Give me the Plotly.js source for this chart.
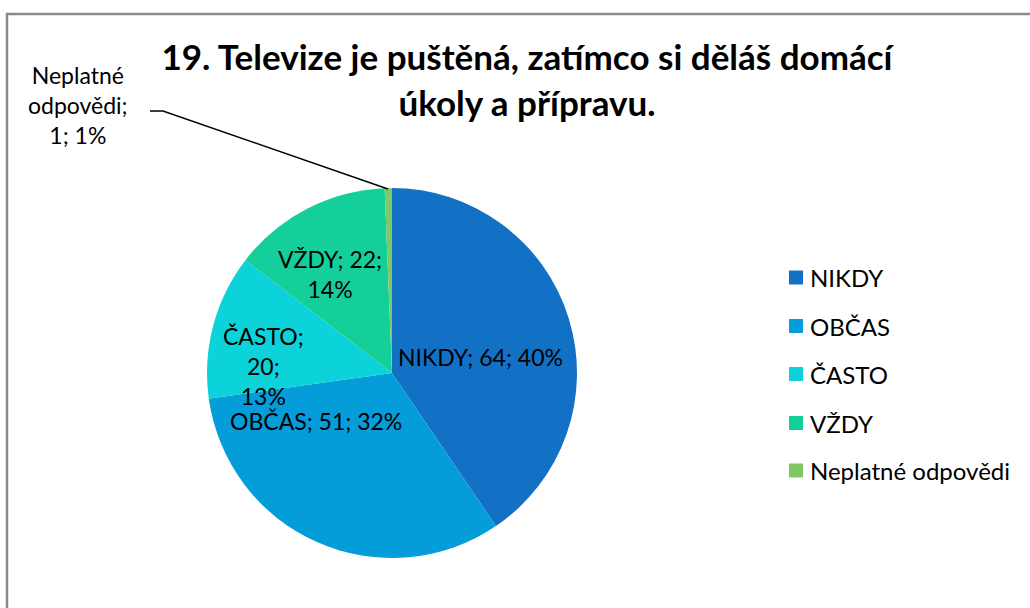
<!DOCTYPE html>
<html>
<head>
<meta charset="utf-8">
<script src="https://cdn.plot.ly/plotly-3.0.1.min.js"></script>
<style>html,body{margin:0;padding:0;background:#fff;} #chart{width:1030px;height:608px;}</style>
</head>
<body>
<div id="chart"></div>
<script>
// ---- data ----
var categories = ["NIKDY", "OBČAS", "ČASTO", "VŽDY", "Neplatné odpovědi"];
var counts = [64, 51, 20, 22, 1];
var percents = [40, 32, 13, 14, 1];
var sliceColors = ["#1270C5", "#049DD9", "#0CD2DA", "#14CF9A", "#7EC962"];
var titleText = "19. Televize je puštěná, zatímco si děláš domácí<br>úkoly a přípravu.";

// ---- layout helpers ----
var W = 1030, H = 608;
function px(x) { return x / W; }
function py(y) { return 1 - y / H; }
var FONT = "Lato, 'Open Sans', 'Liberation Sans', sans-serif";
var LBL = 23;
var LEG = 24;

// pie geometry (pixels)
var cx = 392, cy = 373, r = 185;

var trace = {
  type: "pie",
  labels: categories,
  values: counts,
  sort: false,
  direction: "clockwise",
  rotation: 0,
  marker: {colors: sliceColors, line: {width: 0}},
  textinfo: "none",
  hoverinfo: "label+value+percent",
  domain: {x: [px(cx - r), px(cx + r)], y: [py(cy + r), py(cy - r)]},
  showlegend: false
};

// data-label texts built from the arrays
var labelTexts = [
  categories[0] + "; " + counts[0] + "; " + percents[0] + "%",
  categories[1] + "; " + counts[1] + "; " + percents[1] + "%",
  categories[2] + ";<br>" + counts[2] + ";<br>" + percents[2] + "%",
  categories[3] + "; " + counts[3] + ";<br>" + percents[3] + "%",
  categories[4].replace(" ", "<br>") + ";<br>" + counts[4] + "; " + percents[4] + "%"
];
var labelPos = [[480, 357], [316, 421], [263, 366], [330, 274], [78, 105]];

var annotations = [];
labelTexts.forEach(function (t, i) {
  annotations.push({
    xref: "paper", yref: "paper", x: px(labelPos[i][0]), y: py(labelPos[i][1]),
    xanchor: "center", yanchor: "middle", text: t, showarrow: false,
    font: {family: FONT, size: LBL, color: "#000"}, align: "center"
  });
});

// manual legend
var shapes = [];
var legY = [277.5, 326, 374, 423, 470.5];
categories.forEach(function (c, i) {
  shapes.push({type: "rect", xref: "paper", yref: "paper",
    x0: px(789), x1: px(803), y0: py(legY[i] + 7), y1: py(legY[i] - 7),
    fillcolor: sliceColors[i], line: {width: 0}});
  annotations.push({xref: "paper", yref: "paper", x: px(808), y: py(legY[i]),
    xanchor: "left", yanchor: "middle", text: c, showarrow: false,
    font: {family: FONT, size: LEG, color: "#000"}});
});

// leader line for the small slice
shapes.push({type: "path", xref: "paper", yref: "paper",
  path: "M " + px(150) + " " + py(111) + " L " + px(163) + " " + py(111) + " L " + px(388) + " " + py(189),
  line: {color: "#000", width: 1.5}});

// chart-area border
shapes.push({type: "rect", xref: "paper", yref: "paper",
  x0: px(7), x1: px(1040), y0: py(620), y1: py(14),
  line: {color: "#8a8a8a", width: 2.5}, fillcolor: "rgba(0,0,0,0)"});

var layout = {
  width: W, height: H,
  margin: {l: 0, r: 0, t: 0, b: 0},
  paper_bgcolor: "#fff",
  title: {text: titleText, x: px(527), xanchor: "center", y: py(70), yanchor: "top", yref: "container",
    font: {family: FONT, size: 35, color: "#000", weight: "bold"}},
  showlegend: false,
  shapes: shapes,
  annotations: annotations
};

Plotly.newPlot("chart", [trace], layout, {displayModeBar: false, staticPlot: true});
</script>
</body>
</html>
